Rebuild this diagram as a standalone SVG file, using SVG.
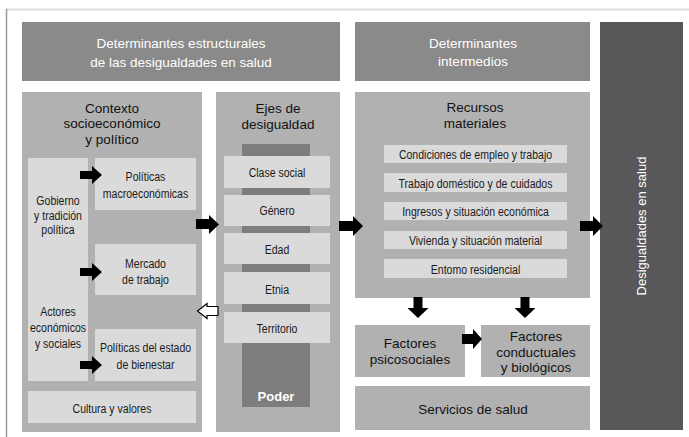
<svg xmlns="http://www.w3.org/2000/svg" width="689" height="437" viewBox="0 0 689 437">
<defs>
<style>
.hdr{fill:#8a8a8a}
.mid{fill:#b1b1b1}
.lt{fill:#dadada}
.wt{font-family:"Liberation Sans",Arial,sans-serif;font-size:13.5px;fill:#ffffff;text-anchor:middle}
.tt{font-family:"Liberation Sans",Arial,sans-serif;font-size:13.5px;fill:#111111;text-anchor:middle}
.nt{font-family:"Liberation Sans",Arial,sans-serif;font-size:13.5px;fill:#1a1a1a;text-anchor:middle}
.arr{fill:#000000}
</style>
</defs>
<rect width="689" height="437" fill="#ffffff"/>
<line x1="6" y1="9.5" x2="689" y2="9.5" stroke="#dcdcdc" stroke-width="2"/>
<line x1="6.5" y1="9" x2="6.5" y2="437" stroke="#9a9a9a" stroke-width="1.5"/>

<g id="header-estructurales">
<rect class="hdr" x="22" y="22" width="318" height="59"/>
<text class="wt" x="181" y="48">Determinantes estructurales</text>
<text class="wt" x="181" y="67">de las desigualdades en salud</text>
</g>
<g id="header-intermedios">
<rect class="hdr" x="355" y="22" width="235" height="59"/>
<text class="wt" x="473" y="48">Determinantes</text>
<text class="wt" x="473" y="66">intermedios</text>
</g>
<g id="desigualdades-salud">
<rect x="600" y="22" width="83" height="408" fill="#58585a"/>
<text class="wt" style="font-size:13px" transform="translate(646,226) rotate(-90)">Desigualdades en salud</text>
</g>

<g id="contexto">
<rect class="mid" x="22" y="92" width="180" height="340"/>
<text class="tt" x="112" y="113">Contexto</text>
<text class="tt" x="112" y="128">socioeconómico</text>
<text class="tt" x="112" y="144">y político</text>
</g>
<g id="gobierno-actores">
<rect class="lt" x="28" y="158" width="60" height="223"/>
<text class="nt" transform="translate(58,204.5) scale(0.78,1)">Gobierno</text>
<text class="nt" transform="translate(58,219.5) scale(0.78,1)">y tradición</text>
<text class="nt" transform="translate(58,234) scale(0.78,1)">política</text>
<text class="nt" transform="translate(58,315.5) scale(0.78,1)">Actores</text>
<text class="nt" transform="translate(58,331.5) scale(0.78,1)">económicos</text>
<text class="nt" transform="translate(58,347.5) scale(0.78,1)">y sociales</text>
</g>
<g id="politicas-macro">
<rect class="lt" x="95" y="158" width="101" height="52"/>
<text class="nt" transform="translate(145.5,180.5) scale(0.78,1)">Políticas</text>
<text class="nt" transform="translate(145.5,197.5) scale(0.78,1)">macroeconómicas</text>
</g>
<g id="mercado-trabajo">
<rect class="lt" x="95" y="244" width="101" height="51"/>
<text class="nt" transform="translate(145.5,267.5) scale(0.78,1)">Mercado</text>
<text class="nt" transform="translate(145.5,283.5) scale(0.78,1)">de trabajo</text>
</g>
<g id="politicas-bienestar">
<rect class="lt" x="95" y="329" width="101" height="52"/>
<text class="nt" transform="translate(145.5,351.5) scale(0.78,1)">Políticas del estado</text>
<text class="nt" transform="translate(145.5,368.5) scale(0.78,1)">de bienestar</text>
</g>
<g id="cultura-valores">
<rect class="lt" x="28" y="391" width="168" height="32"/>
<text class="nt" transform="translate(112,412.5) scale(0.78,1)">Cultura y valores</text>
</g>

<g id="ejes">
<rect class="mid" x="216" y="92" width="124" height="340"/>
<text class="tt" x="278" y="113">Ejes de</text>
<text class="tt" x="278" y="129">desigualdad</text>
</g>
<g id="poder">
<rect x="242" y="144" width="68" height="263" fill="#7d7d7d"/>
<text x="276" y="401" font-family="Liberation Sans,Arial,sans-serif" font-size="13" font-weight="bold" fill="#ffffff" text-anchor="middle">Poder</text>
</g>
<g id="clase-social">
<rect class="lt" x="224" y="156" width="106" height="32"/>
<text class="nt" transform="translate(277,176.5) scale(0.78,1)">Clase social</text>
</g>
<g id="genero">
<rect class="lt" x="224" y="195" width="106" height="31"/>
<text class="nt" transform="translate(277,215) scale(0.78,1)">Género</text>
</g>
<g id="edad">
<rect class="lt" x="224" y="233" width="106" height="31"/>
<text class="nt" transform="translate(277,253.5) scale(0.78,1)">Edad</text>
</g>
<g id="etnia">
<rect class="lt" x="224" y="272" width="106" height="32"/>
<text class="nt" transform="translate(277,293.5) scale(0.78,1)">Etnia</text>
</g>
<g id="territorio">
<rect class="lt" x="224" y="312" width="106" height="31"/>
<text class="nt" transform="translate(277,332.5) scale(0.78,1)">Territorio</text>
</g>

<g id="recursos">
<rect class="mid" x="355" y="92" width="235" height="206"/>
<text class="tt" x="475" y="112">Recursos</text>
<text class="tt" x="475" y="128">materiales</text>
</g>
<g id="empleo">
<rect class="lt" x="384" y="145" width="183" height="18"/>
<text class="nt" transform="translate(475.5,159) scale(0.78,1)">Condiciones de empleo y trabajo</text>
</g>
<g id="domestico">
<rect class="lt" x="384" y="173" width="183" height="19"/>
<text class="nt" transform="translate(475.5,187.5) scale(0.78,1)">Trabajo doméstico y de cuidados</text>
</g>
<g id="ingresos">
<rect class="lt" x="384" y="202" width="183" height="18"/>
<text class="nt" transform="translate(475.5,216) scale(0.78,1)">Ingresos y situación económica</text>
</g>
<g id="vivienda">
<rect class="lt" x="384" y="231" width="183" height="18"/>
<text class="nt" transform="translate(475.5,245) scale(0.78,1)">Vivienda y situación material</text>
</g>
<g id="entorno">
<rect class="lt" x="384" y="259" width="183" height="19"/>
<text class="nt" transform="translate(475.5,273.5) scale(0.78,1)">Entomo residencial</text>
</g>

<g id="psicosociales">
<rect class="mid" x="355" y="325" width="110" height="52"/>
<text class="tt" x="410" y="348">Factores</text>
<text class="tt" x="410" y="364">psicosociales</text>
</g>
<g id="conductuales">
<rect class="mid" x="481" y="325" width="109" height="52"/>
<text class="tt" x="536" y="341">Factores</text>
<text class="tt" x="536" y="357">conductuales</text>
<text class="tt" x="536" y="372">y biológicos</text>
</g>
<g id="servicios">
<rect class="mid" x="355" y="386" width="235" height="44"/>
<text class="tt" x="473" y="414">Servicios de salud</text>
</g>

<g id="connectors">
<polygon class="arr" points="80,171 92,171 92,166 102,175 92,184 92,179 80,179"/>
<polygon class="arr" points="80,268 92,268 92,263 102,272 92,281 92,276 80,276"/>
<polygon class="arr" points="80,361 92,361 92,356 102,365 92,374 92,369 80,369"/>
<polygon class="arr" points="196,219 209,219 209,215 219,224.5 209,234 209,229 196,229"/>
<polygon points="218,306.5 207,306.5 207,303.5 197.5,311 207,318.5 207,315.5 218,315.5" fill="#ffffff" stroke="#000000" stroke-width="1.2"/>
<polygon class="arr" points="339,221 353,221 353,216 363,226 353,236 353,231 339,231"/>
<polygon class="arr" points="580,221 593,221 593,216 603,226 593,236 593,231 580,231"/>
<polygon class="arr" points="413.5,297 422.5,297 422.5,308 428.5,308 418,318 407.5,308 413.5,308"/>
<polygon class="arr" points="520.5,297 529.5,297 529.5,308 535.5,308 525,318 514.5,308 520.5,308"/>
<polygon class="arr" points="462,334 473,334 473,329 482,339 473,349 473,344 462,344"/>
</g>
</svg>
